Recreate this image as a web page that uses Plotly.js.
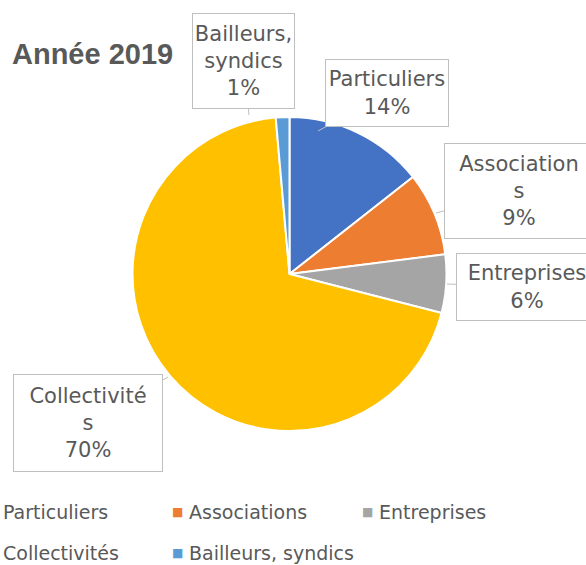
<!DOCTYPE html>
<html>
<head>
<meta charset="utf-8">
<script src="https://cdn.plot.ly/plotly-3.0.1.min.js"></script>
<style>html,body{margin:0;padding:0;background:#fff;}#chart{width:586px;height:565px;}</style>
</head>
<body>
<div id="chart"></div>
<script>
// ---- data ----
const categories = ["Particuliers", "Associations", "Entreprises", "Collectivités", "Bailleurs, syndics"];
const shares = [14.4, 8.6, 6.0, 69.6, 1.4];
const colors = ["#4472C4", "#ED7D31", "#A5A5A5", "#FFC000", "#5B9BD5"];
const chartTitle = "Année 2019";

// ---- layout helpers ----
const W = 586, H = 565;
const px = x => x / W;
const py = y => 1 - y / H;
const textColor = "#595959";
const font = "DejaVu Sans, Verdana, sans-serif";

// callout boxes: tip point, box centre, box size, wrap length (chars)
const callouts = [
  {tip: [318, 131], c: [387, 93],  w: 124, h: 68, wrap: 12},
  {tip: [436, 213], c: [519, 191], w: 150, h: 96, wrap: 11},
  {tip: [447, 284], c: [527, 287], w: 142, h: 68, wrap: 11},
  {tip: [168, 377], c: [88, 423],  w: 150, h: 98, wrap: 12},
  {tip: [249, 115], c: [243.5, 61], w: 103, h: 96, wrap: 10}
];

function wrapText(s, n) {
  const lines = [];
  let cur = "";
  s.split(" ").forEach(word => {
    while (word.length > n) {
      if (cur) { lines.push(cur); cur = ""; }
      lines.push(word.slice(0, n));
      word = word.slice(n);
    }
    if (!cur) cur = word;
    else if ((cur + " " + word).length <= n) cur += " " + word;
    else { lines.push(cur); cur = word; }
  });
  if (cur) lines.push(cur);
  return lines;
}

const total = shares.reduce((a, b) => a + b, 0);
const annotations = [];

categories.forEach((cat, i) => {
  const co = callouts[i];
  const pct = Math.round(shares[i] / total * 100) + "%";
  annotations.push({
    xref: "paper", yref: "paper",
    x: px(co.tip[0]), y: py(co.tip[1]),
    ax: co.c[0] - co.tip[0], ay: co.c[1] - co.tip[1],
    showarrow: true, arrowhead: 0, arrowwidth: 1, arrowcolor: "#BFBFBF", standoff: 0,
    text: wrapText(cat, co.wrap).concat([pct]).join("<br>"),
    font: {family: font, size: 21, color: textColor},
    align: "center", valign: "middle",
    width: co.w - 2, height: co.h - 2,
    bgcolor: "#ffffff", bordercolor: "#BFBFBF", borderwidth: 1, borderpad: 0
  });
});

// legend (drawn as text entries, three per row; first column's keys fall off the page)
categories.forEach((cat, i) => {
  const col = i % 3, row = Math.floor(i / 3);
  const yc = 512 + 41 * row;
  const keyX = -13 + 190 * col;
  if (keyX > 0) {
    annotations.push({
      xref: "paper", yref: "paper", x: px(keyX), y: py(yc),
      xanchor: "center", yanchor: "middle", showarrow: false,
      text: "■", font: {family: font, size: 12, color: colors[i]}
    });
  }
  annotations.push({
    xref: "paper", yref: "paper", x: px(Math.max(1, -3 + 190 * col)), y: py(yc),
    xanchor: "left", yanchor: "middle", showarrow: false,
    text: cat, font: {family: font, size: 19, color: textColor}
  });
});

const trace = {
  type: "pie",
  labels: categories,
  values: shares,
  sort: false,
  direction: "clockwise",
  rotation: 0,
  marker: {colors: colors, line: {color: "#ffffff", width: 2}},
  textinfo: "none",
  hoverinfo: "label+percent",
  domain: {x: [px(289.5 - 157), px(289.5 + 157)], y: [py(274 + 157), py(274 - 157)]},
  showlegend: false
};

const layout = {
  width: W, height: H,
  margin: {l: 0, r: 0, t: 0, b: 0, autoexpand: false},
  paper_bgcolor: "#ffffff",
  showlegend: false,
  title: {
    text: "<b>" + chartTitle + "</b>",
    xref: "container", yref: "container",
    x: px(12), xanchor: "left",
    y: py(54), yanchor: "middle",
    font: {family: "Liberation Sans, Arial, sans-serif", size: 29, color: textColor}
  },
  annotations: annotations
};

Plotly.newPlot("chart", [trace], layout, {displayModeBar: false, staticPlot: true});
</script>
</body>
</html>
